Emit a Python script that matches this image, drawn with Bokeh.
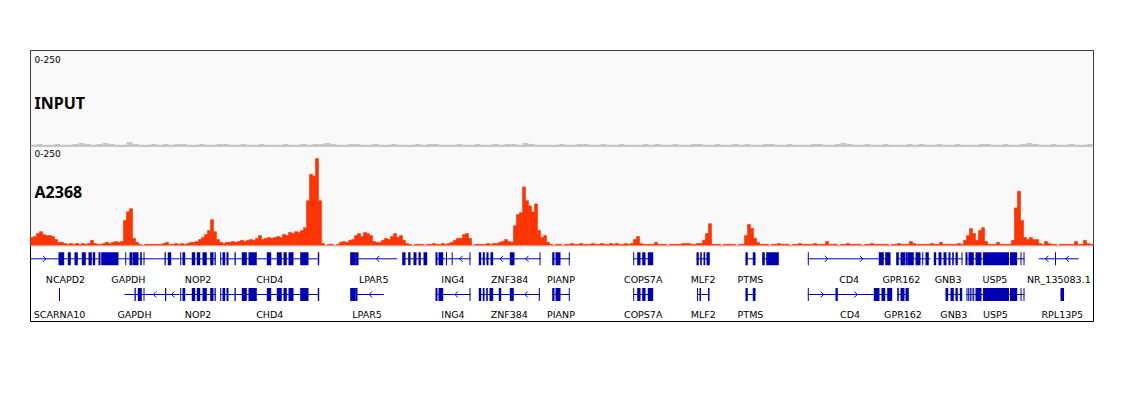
from bokeh.plotting import figure
from bokeh.models import Range1d, Span, BoxAnnotation
from bokeh.core.properties import value
from bokeh.embed import file_html
from bokeh.resources import INLINE

# ---------------- data ----------------
VIEW_START, VIEW_END = 30, 1093      # window positions
BIN = 3                               # A2368 bin size (window units)
INPUT_BIN = 6                         # INPUT bin size
DATA_MAX = 250
track_names = ["INPUT", "A2368"]
range_label = "0-250"

a2368 = [
    20, 23, 30, 35, 28, 25, 25, 23, 15, 8,
    8, 5, 3, 5, 3, 5, 3, 5, 3, 5, 13, 5, 3, 3, 5, 8, 5, 8, 10, 8,
    10, 63, 85, 93, 18, 8,
    3, 0, 3, 3, 3, 3, 3, 3, 5, 8, 3, 3, 5, 3, 5, 3, 5, 8, 8, 10,
    15, 20, 28, 38, 65, 35, 15,
    8, 5, 8, 8, 10, 8, 10, 13, 10, 13, 15, 13, 18, 25, 15, 18, 20, 18, 20, 23, 20, 28, 25, 33, 30, 35,
    33, 38, 45, 113, 180, 175, 220, 113, 5,
    0, 3, 3, 0, 3,
    8, 10, 8, 13, 15, 25, 30, 23, 33, 30, 25, 10, 8, 8, 13, 18, 15, 23, 30, 20, 25, 13, 5,
    3, 0, 3, 3, 3, 0, 3, 3, 5, 3, 3, 5, 3, 5,
    8, 13, 18, 18, 28, 30, 18, 0,
    3, 3, 3, 3, 5, 3, 5, 5, 8, 10, 15, 10, 8,
    50, 78, 83, 148, 113, 100, 85, 105, 38, 20, 25, 8,
    3, 0, 3, 3, 0, 3, 3, 5, 3, 3, 5, 3, 3, 3, 5, 3, 3, 5, 3, 3, 5, 3, 5, 3, 3, 5, 3, 5,
    15, 23, 5,
    3, 3, 3, 3, 8, 3, 3, 3, 0, 3, 3, 3, 3, 5, 5, 5, 3, 3, 5,
    5, 13, 30, 55, 3,
    3, 3, 0, 3, 3, 3, 3, 0, 3, 3,
    25, 53, 43, 18, 8, 3,
    3, 3, 0, 3, 3, 5, 3, 3, 3, 0, 3, 3, 5, 3, 3, 3, 3, 5, 3, 3, 3, 10, 3, 3, 3, 0, 3, 3, 5, 3,
    3, 3, 3, 0, 3, 3, 5, 3, 3, 3, 3, 3, 0, 3, 3, 5, 3, 3, 3,
    10, 5, 3,
    3, 3, 3, 3, 5, 3, 3, 8, 3, 3, 3, 3, 3, 5, 3,
    13, 25, 43, 30,
    13, 38, 45, 10,
    3, 3, 3, 8, 3, 3, 3, 3,
    13, 95, 137, 63, 20, 15, 20, 15, 15, 5,
    3, 10, 5, 3, 3, 0, 3, 3, 3, 3, 3, 10, 3, 3, 13, 5, 3, 3,
]

input_cov = [
    3, 5, 3, 3, 5, 3, 3, 5, 8, 5, 3, 5, 8, 5, 3, 3, 10, 5, 3, 3, 5, 3, 5, 3, 5, 5, 3, 3, 5, 3,
    3, 5, 5, 3, 3, 5, 3, 3, 5, 3, 3, 3, 5, 3, 3, 5, 3, 5, 5, 8, 5, 3, 3, 5, 5, 3, 3, 5, 3, 3,
    5, 3, 3, 3, 5, 3, 5, 5, 3, 3, 3, 5, 3, 3, 5, 3, 3, 5, 3, 5, 5, 3, 8, 5, 3, 3, 3, 3, 5, 3,
    3, 5, 5, 3, 3, 5, 3, 3, 5, 3, 3, 3, 5, 3, 5, 3, 3, 5, 3, 3, 5, 5, 3, 3, 5, 3, 3, 5, 3, 5,
    3, 3, 5, 5, 3, 3, 5, 3, 3, 3, 5, 5, 3, 3, 5, 8, 5, 3, 3, 5, 3, 3, 5, 3, 3, 3, 5, 3, 5, 3,
    3, 5, 3, 3, 5, 3, 3, 3, 5, 5, 3, 3, 5, 3, 3, 5, 8, 5, 3, 3, 5, 3, 3, 5, 3, 3, 5, 3,
]

# genes: names, rows, strands, spans, exons
gene_names = [
    "NCAPD2", "GAPDH", "", "NOP2", "CHD4", "LPAR5", "", "ING4", "ZNF384", "PIANP",
    "COPS7A", "MLF2", "PTMS", "", "CD4", "GPR162", "", "GNB3", "USP5", "NR_135083.1",
    "SCARNA10", "GAPDH", "", "NOP2", "CHD4", "LPAR5", "ING4", "ZNF384", "PIANP",
    "COPS7A", "MLF2", "PTMS", "CD4", "GPR162", "GNB3", "USP5", "RPL13P5",
]
gene_rows = [1] * 20 + [2] * 17
gene_strands = [
    "+", "+", "-", "-", "-", "-", "-", "-", "-", "+",
    "+", "-", "+", "+", "+", "+", "+", "+", "+", "-",
    "+", "+", "-", "-", "-", "-", "-", "-", "+",
    "+", "-", "+", "+", "+", "+", "+", "+",
]
gene_spans = [
    (10, 100), (100.7, 155), (155, 179), (179.7, 215.3), (219.7, 318.7),
    (349.7, 396.7), (401.7, 426.7), (435, 470), (478.3, 540), (551.7, 569.3),
    (632.7, 652.7), (696, 709.3), (745, 755), (761.7, 778.3), (807.3, 890),
    (895.7, 906), (906.7, 930), (933.3, 962), (965, 1024), (1038.3, 1078.3),
    (58.5, 59.5), (124, 144), (144, 179), (179.7, 215.3), (219.7, 318.7),
    (349.7, 383.3), (435, 470), (478.3, 539.3), (551.7, 569.3),
    (632.7, 652.7), (696.5, 709), (745, 755), (807.3, 891.7), (896.7, 908.3),
    (945, 961.7), (966, 1024), (1060, 1063.5),
]
nop2_exons = [(179.7, 180.7), (182, 184.7), (191.3, 194.7), (196.3, 199.7), (202, 206.3), (209.7, 213), (214, 215.3)]
chd4_exons = [(219.7, 220.7), (222, 224.7), (226, 228), (234, 235.3), (241.3, 246.3), (248, 256.3),
              (266.3, 270.7), (276.3, 281.3), (283, 286.3), (288, 293), (299.7, 308), (317.3, 318.7)]
pianp_exons = [(551.7, 554), (555, 560), (568.3, 569.3)]
cops7a_exons = [(632.7, 633.7), (636.7, 640), (641.7, 645), (647.3, 652.7)]
gene_exons = [
    [(58, 63.7), (67.3, 70.3), (74, 77.3), (81.3, 85.3), (88, 91.3), (92.3, 94.7), (98, 100)],
    [(100.7, 118), (124.7, 125.7), (129, 132), (132.3, 138), (139.7, 141.3), (143, 144)],
    [(164, 165.3), (167.3, 170.7)],
    nop2_exons,
    chd4_exons,
    [(349.7, 354.7), (354.7, 358)],
    [(401.7, 405), (407.7, 410), (413, 416), (418, 420.3), (423, 426.7)],
    [(435, 437), (438, 442.7), (445.5, 446.5), (451.2, 452.2), (469, 470)],
    [(478.3, 480.7), (482.3, 484.3), (486, 488), (490, 492.7), (509.3, 514), (539, 540)],
    pianp_exons,
    cops7a_exons,
    [(696, 698.3), (699.7, 701.3), (703, 704.7), (706, 709.3)],
    [(745, 747.3), (752.3, 755)],
    [(761.7, 764.3), (765.7, 778.3)],
    [(807.3, 808.3), (878.3, 883.3), (884.7, 890)],
    [(895.7, 898.3), (900, 905), (905.5, 906)],
    [(906.7, 913.3), (915, 920), (921.7, 922.7), (925, 928.3)],
    [(933.3, 935.7), (938, 941), (943, 946), (948, 950), (951.7, 953.3), (955, 957.3), (961, 962)],
    [(965, 967), (968, 973.3), (975, 981), (982.5, 1008.5), (1009.5, 1016.7), (1020, 1021), (1023, 1024)],
    [(1054.5, 1055.5)],
    [(58.5, 59.5)],
    [(134, 135.3), (137.3, 141.3), (143, 144)],
    [(164.5, 165.7)],
    nop2_exons,
    chd4_exons,
    [(349.7, 354.7), (354.7, 357)],
    [(435, 437), (438, 442.7), (469, 470)],
    [(478.3, 480.7), (482.3, 484), (485.7, 487.3), (489, 492.7), (498.3, 500.7), (509.3, 513.3), (538.3, 539.3)],
    pianp_exons,
    cops7a_exons,
    [(696.5, 697.5), (699, 700.5), (707.5, 709)],
    [(745, 747.3), (752.3, 755)],
    [(807.3, 808.3), (835, 837.3), (873.3, 879), (881, 884.7), (886.7, 891.7)],
    [(896.7, 898.3), (900, 904), (905, 908.3)],
    [(945, 947.7), (950, 953.3), (955, 957.3), (959.3, 961.7)],
    [(966, 966.7), (967.7, 968.3), (969.3, 970), (971, 971.7), (972.7, 973.3),
     (975, 981), (982.5, 1008.5), (1009.5, 1016.7), (1020, 1021), (1023, 1024)],
    [(1060, 1063.5)],
]

# ---------------- layout / style ----------------
FRAME_TOP, FRAME_BOTTOM = 50, 321
INPUT_TOP, INPUT_BASE = 50, 145.5
A_TOP, A_BASE = 146, 245
ROW_Y = {1: 258.3, 2: 294.0}
LABEL_Y = {1: 279.0, 2: 314.0}
EXON_H = 13
GENE_COLOR = "#0000b2"
RED = "#ff3300"
GRAY = "#c4c4c4"


def track_range(top, base):
    scale = DATA_MAX / (base - top)
    return Range1d(start=(base - FRAME_BOTTOM) * scale, end=(base - FRAME_TOP) * scale)


p = figure(frame_width=VIEW_END - VIEW_START, frame_height=FRAME_BOTTOM - FRAME_TOP,
           x_range=Range1d(VIEW_START, VIEW_END), y_range=Range1d(FRAME_BOTTOM, FRAME_TOP),
           output_backend="svg", toolbar_location=None, title=None,
           x_axis_location=None, y_axis_location=None,
           min_border_left=30, min_border_right=15, min_border_top=50, min_border_bottom=17)
p.grid.visible = False
p.outline_line_color = "black"
p.outline_line_width = 1
p.background_fill_color = "white"
p.border_fill_color = "white"
p.extra_y_ranges = {"input": track_range(INPUT_TOP, INPUT_BASE), "a2368": track_range(A_TOP, A_BASE)}

p.add_layout(BoxAnnotation(top=FRAME_TOP, bottom=A_BASE, fill_color="#f9f9f9", fill_alpha=1,
                           line_alpha=0, level="underlay"))

# coverage
xs_in = [VIEW_START + INPUT_BIN * (i + 0.5) for i in range(len(input_cov))]
p.vbar(x=xs_in, width=INPUT_BIN, top=input_cov, bottom=0, y_range_name="input",
       fill_color=GRAY, line_color=None)
xs_a = [VIEW_START + BIN * (i + 0.5) for i in range(len(a2368))]
p.vbar(x=xs_a, width=BIN, top=a2368, bottom=0, y_range_name="a2368",
       fill_color=RED, line_color=RED, line_width=0.6)

p.add_layout(Span(location=146, dimension="width", line_color="#c8c8c8", line_width=1))
p.add_layout(Span(location=245.5, dimension="width", line_color="#d4d4d4", line_width=1))

# genes
lx0, lx1, ly = [], [], []
ex_l, ex_r, ex_t, ex_b = [], [], [], []
ax0, ay0, ax1, ay1 = [], [], [], []
lab_x, lab_y, lab_t = [], [], []
for name, row, (s, e), strand, exons in zip(gene_names, gene_rows, gene_spans, gene_strands, gene_exons):
    yc = ROW_Y[row]
    lx0.append(s); lx1.append(e); ly.append(yc)
    for a, b in exons:
        ex_l.append(a); ex_r.append(max(b, a + 1)); ex_t.append(yc - EXON_H / 2); ex_b.append(yc + EXON_H / 2)
    # strand chevrons in long introns
    bounds = [s] + [v for ab in exons for v in ab] + [e]
    for k in range(0, len(bounds), 2):
        a, b = max(bounds[k], VIEW_START), min(bounds[k + 1], VIEW_END)
        gap = b - a
        if gap >= 12:
            n = max(1, int(gap // 28))
            for j in range(n):
                cx = a + gap * (j + 0.5) / n
                d = 1.5 if strand == "+" else -1.5
                ax0 += [cx - d, cx + d]; ay0 += [yc - 3, yc]
                ax1 += [cx + d, cx - d]; ay1 += [yc, yc + 3]
    if name:
        lab_x.append((max(s, VIEW_START) + min(e, VIEW_END)) / 2)
        lab_y.append(LABEL_Y[row]); lab_t.append(name)

p.segment(x0=lx0, y0=ly, x1=lx1, y1=ly, line_color=GENE_COLOR, line_width=1)
p.segment(x0=ax0, y0=ay0, x1=ax1, y1=ay1, line_color=GENE_COLOR, line_width=1)
p.quad(left=ex_l, right=ex_r, top=ex_t, bottom=ex_b, fill_color=GENE_COLOR, line_color=None)
p.text(x=lab_x, y=lab_y, text=lab_t, text_font=value("DejaVu Sans"), text_font_size="9.5px",
       text_align="center", text_baseline="middle", text_color="black")

# track labels
p.text(x=[34, 34], y=[58.7, 153], text=[range_label, range_label], text_font=value("DejaVu Sans"),
       text_font_size="9px", text_align="left", text_baseline="middle", text_color="black")
p.text(x=[34, 34], y=[102, 191.7], text=track_names, text_font=value("Noto Sans"),
       text_font_style="bold", text_font_size="16px", text_align="left",
       text_baseline="middle", text_color="black")

open("out.html", "w").write(file_html(p, INLINE))
